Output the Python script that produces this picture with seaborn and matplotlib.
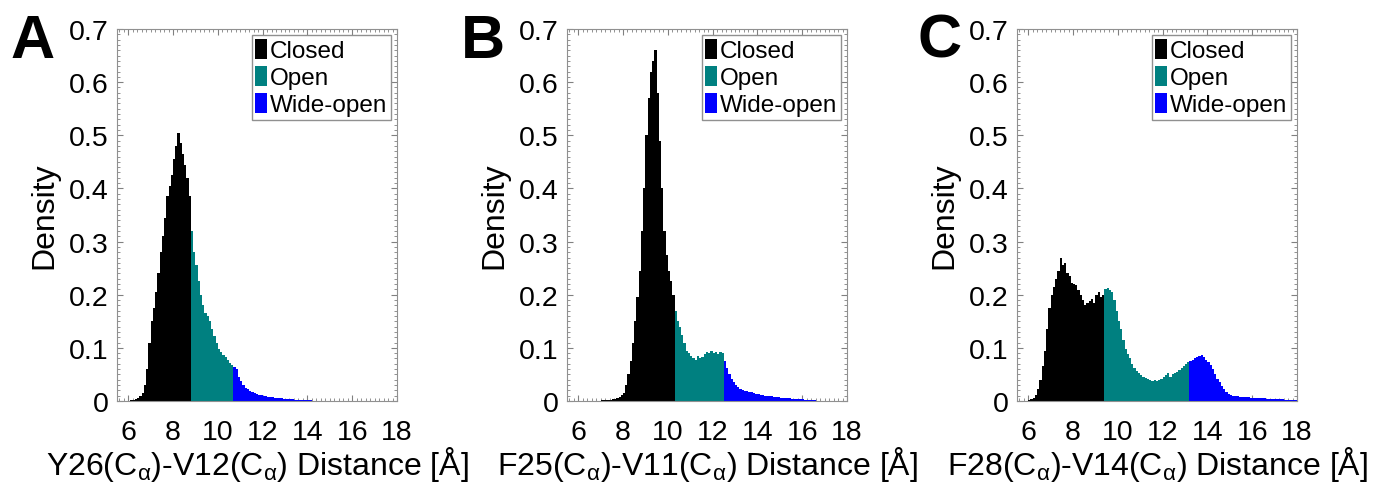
import numpy as np
import pandas as pd
import matplotlib
matplotlib.use("Agg")
import matplotlib.pyplot as plt
from matplotlib.ticker import AutoMinorLocator, FuncFormatter
from matplotlib.patches import Patch
import seaborn as sns

# ---------------- data (density per 0.1 Å bin, bins start at 6.0 Å) ----------------
bin_start = 6.0
bin_width = 0.1

density_A = [
    0.000, 0.001, 0.002, 0.003, 0.005, 0.009, 0.015, 0.030, 0.060, 0.110,   # 6.0-6.9
    0.150, 0.175, 0.205, 0.240, 0.280, 0.310, 0.345, 0.385, 0.405, 0.425,   # 7.0-7.9
    0.455, 0.480, 0.505, 0.485, 0.465, 0.445, 0.420, 0.385, 0.320, 0.280,   # 8.0-8.9
    0.255, 0.225, 0.200, 0.180, 0.165, 0.160, 0.150, 0.135, 0.122, 0.110,   # 9.0-9.9
    0.098, 0.092, 0.087, 0.082, 0.078, 0.072, 0.068, 0.064, 0.060, 0.045,   # 10.0-10.9
    0.038, 0.030, 0.025, 0.022, 0.018, 0.017, 0.015, 0.013, 0.012, 0.011,   # 11.0-11.9
    0.010, 0.009, 0.008, 0.008, 0.007, 0.006, 0.006, 0.005, 0.005, 0.004,   # 12.0-12.9
    0.004, 0.003, 0.003, 0.003, 0.002, 0.002, 0.002, 0.002, 0.001, 0.001,   # 13.0-13.9
    0.001, 0.001, 0.000, 0.000, 0.000, 0.000, 0.000, 0.000, 0.000, 0.000,   # 14.0-14.9
]
density_B = [
    0.000, 0.000, 0.000, 0.000, 0.000, 0.000, 0.000, 0.000, 0.000, 0.000,   # 6.0-6.9
    0.001, 0.001, 0.001, 0.002, 0.002, 0.003, 0.004, 0.006, 0.008, 0.011,   # 7.0-7.9
    0.015, 0.030, 0.050, 0.075, 0.110, 0.150, 0.195, 0.245, 0.320, 0.400,   # 8.0-8.9
    0.500, 0.570, 0.620, 0.640, 0.660, 0.580, 0.490, 0.400, 0.320, 0.275,   # 9.0-9.9
    0.245, 0.225, 0.200, 0.170, 0.150, 0.140, 0.125, 0.110, 0.095, 0.090,   # 10.0-10.9
    0.085, 0.080, 0.078, 0.085, 0.080, 0.083, 0.088, 0.092, 0.090, 0.095,   # 11.0-11.9
    0.090, 0.093, 0.088, 0.092, 0.090, 0.075, 0.062, 0.050, 0.042, 0.036,   # 12.0-12.9
    0.030, 0.026, 0.023, 0.021, 0.019, 0.018, 0.017, 0.016, 0.015, 0.014,   # 13.0-13.9
    0.013, 0.012, 0.011, 0.010, 0.010, 0.009, 0.009, 0.008, 0.007, 0.007,   # 14.0-14.9
    0.006, 0.006, 0.005, 0.005, 0.005, 0.004, 0.004, 0.004, 0.003, 0.003,   # 15.0-15.9
    0.003, 0.002, 0.002, 0.001, 0.001, 0.001, 0.000, 0.000, 0.000, 0.000,   # 16.0-16.9
]
density_C = [
    0.001, 0.003, 0.006, 0.012, 0.022, 0.040, 0.065, 0.095, 0.135, 0.175,   # 6.0-6.9
    0.200, 0.215, 0.230, 0.245, 0.270, 0.255, 0.260, 0.240, 0.235, 0.222,   # 7.0-7.9
    0.220, 0.218, 0.208, 0.200, 0.190, 0.180, 0.185, 0.188, 0.192, 0.185,   # 8.0-8.9
    0.200, 0.205, 0.195, 0.200, 0.210, 0.212, 0.208, 0.205, 0.190, 0.170,   # 9.0-9.9
    0.150, 0.135, 0.115, 0.098, 0.088, 0.080, 0.070, 0.062, 0.057, 0.052,   # 10.0-10.9
    0.048, 0.045, 0.043, 0.042, 0.040, 0.038, 0.040, 0.038, 0.040, 0.042,   # 11.0-11.9
    0.045, 0.048, 0.052, 0.045, 0.050, 0.052, 0.055, 0.058, 0.062, 0.066,   # 12.0-12.9
    0.070, 0.073, 0.076, 0.078, 0.080, 0.082, 0.084, 0.087, 0.083, 0.078,   # 13.0-13.9
    0.074, 0.068, 0.060, 0.050, 0.042, 0.035, 0.028, 0.022, 0.017, 0.013,   # 14.0-14.9
    0.011, 0.010, 0.009, 0.009, 0.008, 0.008, 0.007, 0.007, 0.007, 0.006,   # 15.0-15.9
    0.006, 0.006, 0.005, 0.005, 0.005, 0.005, 0.004, 0.004, 0.004, 0.004,   # 16.0-16.9
    0.003, 0.003, 0.003, 0.003, 0.002, 0.002, 0.002, 0.002, 0.001, 0.001,   # 17.0-17.9
]

# state boundaries (Å): closed < b1 <= open < b2 <= wide-open
bounds_A = [8.8, 10.7]
bounds_B = [10.3, 12.5]
bounds_C = [9.4, 13.2]

panel_letters = ["A", "B", "C"]
xlabels = [
    r"Y26(C$_{\mathregular{α}}$)-V12(C$_{\mathregular{α}}$) Distance [Å]",
    r"F25(C$_{\mathregular{α}}$)-V11(C$_{\mathregular{α}}$) Distance [Å]",
    r"F28(C$_{\mathregular{α}}$)-V14(C$_{\mathregular{α}}$) Distance [Å]",
]
states = ["Closed", "Open", "Wide-open"]
colors = {"Closed": "#000000", "Open": "#008080", "Wide-open": "#0000FF"}
xticks = [6, 8, 10, 12, 14, 16, 18]
yticks = [0, 0.1, 0.2, 0.3, 0.4, 0.5, 0.6, 0.7]

# ---------------- style ----------------
sns.set_theme(style="ticks")
plt.rcParams["font.family"] = ["Liberation Sans", "DejaVu Sans"]
plt.rcParams["mathtext.fontset"] = "custom"
plt.rcParams["mathtext.rm"] = "Liberation Sans"
plt.rcParams["mathtext.it"] = "Liberation Sans:italic"
plt.rcParams["mathtext.bf"] = "Liberation Sans:bold"
plt.rcParams["text.color"] = "black"
plt.rcParams["axes.labelcolor"] = "black"
plt.rcParams["xtick.labelcolor"] = "black"
plt.rcParams["ytick.labelcolor"] = "black"

fig = plt.figure(figsize=(13.86, 4.89), dpi=100)
W, H = 1386.0, 489.0
lefts = [117, 567, 1017]
letter_x = [10, 461, 917]
ax_w, ax_top, ax_bot = 280, 30, 402

datasets = [(density_A, bounds_A), (density_B, bounds_B), (density_C, bounds_C)]

for i, (dens, bnds) in enumerate(datasets):
    ax = fig.add_axes([lefts[i] / W, (H - ax_bot) / H, ax_w / W, (ax_bot - ax_top) / H])
    n = len(dens)
    left_edges = np.round(bin_start + bin_width * np.arange(n), 3)
    centers = left_edges + bin_width / 2
    state = np.where(left_edges < bnds[0] - 1e-9, "Closed",
                     np.where(left_edges < bnds[1] - 1e-9, "Open", "Wide-open"))
    df = pd.DataFrame({"dist": centers, "density": np.asarray(dens, float), "state": state})
    sns.histplot(data=df, x="dist", weights="density", hue="state",
                 binwidth=bin_width, binrange=(bin_start, bin_start + bin_width * n),
                 hue_order=states, palette=colors, multiple="layer", alpha=1.0,
                 element="bars", linewidth=0, legend=False, ax=ax)

    ax.set_xlim(5.5, 18)
    ax.set_ylim(0, 0.7)
    ax.set_xticks(xticks)
    ax.set_yticks(yticks)
    ax.xaxis.set_minor_locator(AutoMinorLocator(10))
    ax.yaxis.set_minor_locator(AutoMinorLocator(10))
    ax.yaxis.set_major_formatter(FuncFormatter(lambda v, p: "0" if abs(v) < 1e-9 else f"{v:.1f}"))
    ax.xaxis.set_major_formatter(FuncFormatter(lambda v, p: f"{v:.0f}"))
    ax.tick_params(which="both", direction="in", top=True, right=True, color="#808080",
                   labelcolor="black")
    ax.tick_params(which="major", length=4, width=0.8, labelsize=20.5, pad=6)
    ax.tick_params(axis="x", which="major", pad=13)
    ax.tick_params(which="minor", length=2, width=0.6)
    for s in ax.spines.values():
        s.set_color("#909090")
        s.set_linewidth(0.8)
    ax.set_ylabel("Density", fontsize=23, labelpad=7, color="black")
    ax.set_xlabel(xlabels[i], fontsize=23, labelpad=-1, color="black")

    handles = [Patch(facecolor=colors[s], edgecolor="none", label=s) for s in states]
    leg = ax.legend(handles=handles, loc="upper right", fontsize=17.5,
                    handlelength=0.5, handleheight=0.9, handletextpad=0.1,
                    labelspacing=0.15, borderpad=0.15, borderaxespad=0.25,
                    fancybox=False, framealpha=1)
    leg.get_frame().set_edgecolor("#909090")
    leg.get_frame().set_linewidth(1.0)
    for t in leg.get_texts():
        t.set_color("black")

    fig.text(letter_x[i] / W, 1 - 58 / H, panel_letters[i], fontsize=44,
             fontweight="bold", ha="left", va="baseline", color="black")

fig.savefig("out.png", dpi=100)
